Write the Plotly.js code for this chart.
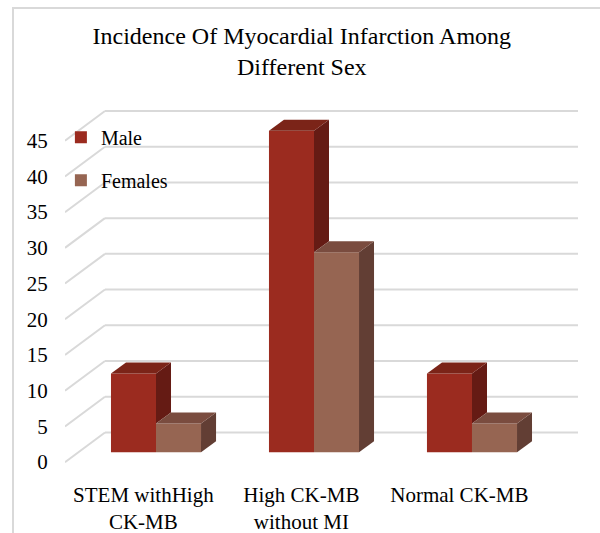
<!DOCTYPE html>
<html>
<head>
<meta charset="utf-8">
<script src="https://cdn.plot.ly/plotly-3.0.1.min.js"></script>
<style>
  html, body { margin: 0; padding: 0; background: #ffffff; }
  #chart { width: 600px; height: 533px; }
  #frame { position: absolute; left: 12px; top: 7px; width: 600px; height: 540px;
           border-left: 2px solid #d9d9d9; border-top: 2px solid #d9d9d9; pointer-events: none; }
  #fontwarm { position: absolute; left: 0; top: 0; font-family: 'Liberation Serif'; font-size: 20px;
              color: transparent; pointer-events: none; }
</style>
</head>
<body>
<span id="fontwarm">Aa</span>
<div id="chart"></div><div id="frame"></div>
<script>
// ---- data ----
const categories = ["STEM withHigh<br>CK-MB", "High CK-MB<br>without MI", "Normal CK-MB"];
const maleValues = [11, 45, 11];
const femaleValues = [4, 28, 4];
const seriesNames = ["Male", "Females"];
const yTicks = [0, 5, 10, 15, 20, 25, 30, 35, 40, 45];

// ---- style / geometry ----
const FONT = "Liberation Serif";
const maleColors = { front: "#9b2b1f", top: "#7b2418", side: "#651b14" };
const femaleColors = { front: "#966552", top: "#7a4c3f", side: "#623e34" };
const gridColor = "#d9d9d9";

const xRange = [-0.576, 2.671];
const yRange = [-3.9, 49.3];
const barW = 0.285;
const depthX = 0.095;
const depthY = 1.54;
const frontShift = -1.4;
const backShift = 2.76;
const wallDepthX = 0.253;
const labelShift = -0.08;

const xs = categories.map((_, i) => i);

const traces = [
  { type: "bar", name: seriesNames[0], x: xs, y: maleValues, width: barW, offset: -barW,
    marker: { color: maleColors.front, line: { width: 0 } }, legendgroup: "m", hoverinfo: "none" },
  { type: "bar", name: seriesNames[1], x: xs, y: femaleValues, width: barW, offset: 0,
    marker: { color: femaleColors.front, line: { width: 0 } }, legendgroup: "f", hoverinfo: "none" }
];

const shapes = [];
function poly(pts, color) {
  const d = "M" + pts.map(p => p[0] + "," + p[1]).join("L") + "Z";
  shapes.push({ type: "path", xref: "x", yref: "y", path: d, fillcolor: color,
                line: { width: 0 }, layer: "above" });
}
yTicks.forEach(v => {
  const yb = v + backShift;
  const yf = v + frontShift;
  shapes.push({ type: "line", xref: "x", yref: "y", x0: xRange[0] + wallDepthX, x1: xRange[1],
                y0: yb, y1: yb, line: { color: gridColor, width: 2 }, layer: "below" });
  shapes.push({ type: "line", xref: "x", yref: "y", x0: xRange[0], x1: xRange[0] + wallDepthX,
                y0: yf, y1: yb, line: { color: gridColor, width: 2 }, layer: "below" });
});
xs.forEach((x, i) => {
  const m = maleValues[i], f = femaleValues[i];
  const ml = x - barW, mr = x;
  const visibleFrom = Math.min(f, m);
  poly([[mr, visibleFrom], [mr + depthX, visibleFrom + depthY], [mr + depthX, m + depthY], [mr, m]], maleColors.side);
  poly([[ml, m], [ml + depthX, m + depthY], [mr + depthX, m + depthY], [mr, m]], maleColors.top);
  const fl = x, fr = x + barW;
  poly([[fr, 0], [fr + depthX, depthY], [fr + depthX, f + depthY], [fr, f]], femaleColors.side);
  poly([[fl, f], [fl + depthX, f + depthY], [fr + depthX, f + depthY], [fr, f]], femaleColors.top);
});

traces.push({ type: "scatter", x: [xRange[0]], y: [0], yaxis: "y2", mode: "markers",
              marker: { opacity: 0 }, showlegend: false, hoverinfo: "none" });

const layout = {
  width: 600, height: 533,
  margin: { l: 65, r: 22, t: 100, b: 53 },
  paper_bgcolor: "#ffffff", plot_bgcolor: "rgba(0,0,0,0)",
  font: { family: FONT, size: 20, color: "#000000" },
  title: { text: "Incidence Of Myocardial Infarction Among<br>Different Sex",
           font: { family: FONT, size: 24, color: "#000000" },
           x: 0.503, xanchor: "center", y: 0.918, yanchor: "top" },
  showlegend: true,
  legend: { x: -0.008, xanchor: "left", y: 0.953, yanchor: "top", bgcolor: "rgba(0,0,0,0)",
            font: { family: FONT, size: 20, color: "#000000" }, tracegroupgap: 14, traceorder: "grouped",
            itemwidth: 30 },
  barmode: "overlay",
  xaxis: { range: xRange, tickmode: "array", tickvals: xs.map(x => x + labelShift), ticktext: categories,
           showgrid: false, zeroline: false, showline: false, ticks: "", fixedrange: true,
           tickfont: { family: FONT, size: 21, color: "#000000" } },
  yaxis: { range: yRange, showgrid: false, zeroline: false, showline: false,
           showticklabels: false, ticks: "", fixedrange: true },
  yaxis2: { range: [yRange[0] - frontShift, yRange[1] - frontShift], overlaying: "y", side: "left",
            tickmode: "array", tickvals: yTicks, showgrid: false, zeroline: false, showline: false,
            ticks: "outside", ticklen: 12, tickcolor: "rgba(0,0,0,0)",
            tickfont: { family: FONT, size: 21, color: "#000000" }, fixedrange: true },
  shapes: shapes
};

function draw() {
  Plotly.newPlot("chart", traces, layout, { displayModeBar: false, staticPlot: true });
}
if (document.fonts && document.fonts.load) {
  Promise.all([document.fonts.load('20px "Liberation Serif"'), document.fonts.load('24px "Liberation Serif"')])
    .then(draw, draw);
} else {
  draw();
}
</script>
</body>
</html>
